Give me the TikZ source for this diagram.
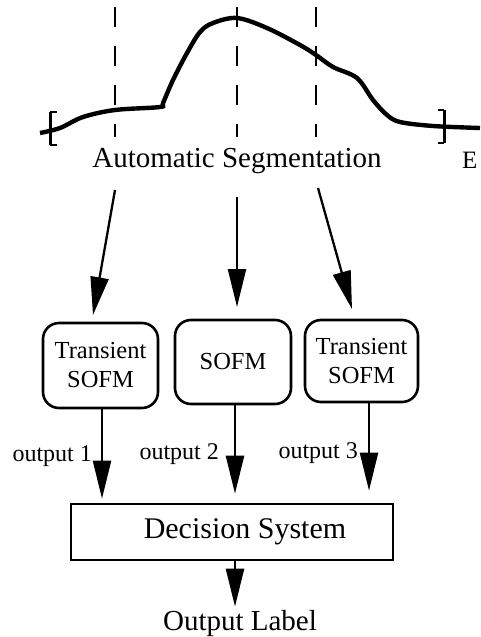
\documentclass[tikz,border=0pt]{standalone}
\usepackage{fontspec}
\setmainfont{Liberation Serif}
\usetikzlibrary{positioning,arrows.meta}

\begin{document}
\begin{tikzpicture}[
    x=1pt, y=-1pt,
    sofm/.style={draw, line width=2.6pt, rounded corners=16pt, align=center, inner sep=0pt, font=\fontsize{24.5}{29}\selectfont},
    decbox/.style={draw, line width=2.6pt, minimum width=322pt, minimum height=56pt, inner sep=0pt, font=\fontsize{30}{34}\selectfont},
    arr/.style={draw, line width=2.3pt, -{Triangle[length=38pt, width=18pt]}},
    cut/.style={line width=2.2pt, dash pattern=on 20pt off 19pt},
    lab/.style={font=\fontsize{24}{28}\selectfont, inner sep=0pt},
    big/.style={font=\fontsize{29}{34}\selectfont, inner sep=0pt}
]
\useasboundingbox (0,0) rectangle (480,637);

% Signal and segment boundaries
\foreach \x in {115,237,316} {
    \draw[cut] (\x,7) -- (\x,137);
}
\draw[line width=4.4pt, line join=round] plot[smooth, tension=0.55] coordinates {
    (40,133) (60,128) (83,117) (115,110) (160,107) (163,103) (173,80) (187,53) (200,32)
    (213,23) (237,18) (267,28) (300,45) (316,55) (333,67) (357,78) (373,100) (387,115)
    (400,122) (433,126) (480,128)};
\draw[line width=3pt] (50,112) -- (50,145);
\draw[line width=2pt] (50,112) -- (57,112) (50,145) -- (57,145);
\draw[line width=3pt] (444,110) -- (444,143);
\draw[line width=2pt] (444,110) -- (438,110) (444,143) -- (438,143);

% Define nodes
\node[big, anchor=base] (seg) at (237,167) {Automatic Segmentation};
\node[big, font=\fontsize{25}{30}\selectfont, anchor=base west] (e) at (462,168) {E};
\node[sofm, minimum width=115pt, minimum height=85pt] (box1) at (100.5,365.5) {Transient\\SOFM};
\node[sofm, minimum width=116pt, minimum height=84pt] (box2) at (233,362) {SOFM};
\node[sofm, minimum width=113pt, minimum height=82pt] (box3) at (361.5,361) {Transient\\SOFM};
\node[decbox] (dec) at (232,532) {\hspace*{26pt}Decision System};
\node[big, anchor=base] (out) at (240,630) {Output Label};

\coordinate (s1) at (115,190);
\coordinate (s2) at (237,197);
\coordinate (s3) at (318,188);
\coordinate (t1) at (93,315);
\coordinate (t2) at (237,307);
\coordinate (t3) at (352,309);

% Draw edges
\foreach \u/\v in {s1/t1, s2/t2, s3/t3} {
    \draw[arr] (\u) -- (\v);
}
\draw[arr, shorten >=4pt] ([xshift=1.5pt]box1.south) -- node[lab, left=9pt] {output 1} ([xshift=1.5pt]box1.south |- dec.north);
\draw[arr, shorten >=9pt] ([xshift=2pt]box2.south) -- node[lab, left=15pt] {output 2} ([xshift=2pt]box2.south |- dec.north);
\draw[arr, shorten >=12pt] ([xshift=7.5pt]box3.south) -- node[lab, left=10pt] {output 3} ([xshift=7.5pt]box3.south |- dec.north);
\draw[arr, shorten >=3pt] ([xshift=3pt]dec.south) -- ([xshift=3pt]dec.south |- out.north);

\end{tikzpicture}
\end{document}
